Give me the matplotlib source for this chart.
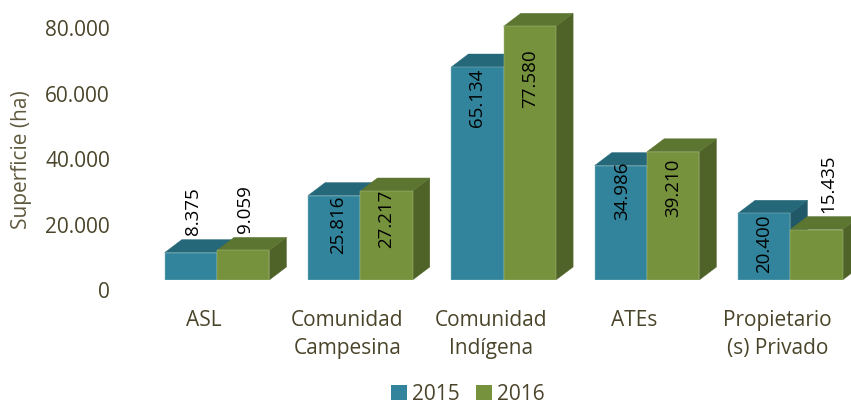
# encoding: utf-8
from matplotlib import pyplot as plt
from matplotlib.patches import Patch
from matplotlib.transforms import ScaledTranslation
import numpy as np

categories = ['ASL', 'Comunidad\nCampesina', 'Comunidad\nIndígena', 'ATEs', 'Propietario\n(s) Privado']
values_2015 = [8375, 25816, 65134, 34986, 20400]
values_2016 = [9059, 27217, 77580, 39210, 15435]
series_names = ['2015', '2016']
y_ticks = [0, 20000, 40000, 60000, 80000]
y_tick_labels = ['0', '20.000', '40.000', '60.000', '80.000']

# label nudges from the top centre of each bar, in pixels
dx_2015 = [2, 4, 0, 1, 0]
dy_2015 = [41, -29, -31, -25, -30]
dx_2016 = [2, 0, 0, 0, 12]
dy_2016 = [41, -28, -52, -36, 46]

TEXT = '#4A452A'
FONT = 'Open Sans'
plt.rcParams['font.family'] = FONT

# colours: front, top, side, edge
COLS_2015 = ('#31849B', '#256879', '#205867', '#8DBBC8')
COLS_2016 = ('#76923C', '#5C7530', '#4F6228', '#A9BD85')

BAR_W = 0.365
DEPTH_X = 0.12
DEPTH_Y = 3976


def draw_bar(ax, x, v, cols, z):
    front, top, side, edge = cols
    x0, x1 = x, x + BAR_W
    ax.fill([x1, x1 + DEPTH_X, x1 + DEPTH_X, x1], [0, DEPTH_Y, v + DEPTH_Y, v],
            color=side, ec=side, lw=0.3, zorder=z)
    ax.fill([x0, x0 + DEPTH_X, x1 + DEPTH_X, x1], [v, v + DEPTH_Y, v + DEPTH_Y, v],
            color=top, ec=top, lw=0.3, zorder=z)
    ax.bar(x0, v, BAR_W, align='edge', color=front, edgecolor=edge, linewidth=0.35, zorder=z)


def value_label(ax, x, v, dx, dy):
    txt = '{:,}'.format(v).replace(',', '.')
    ax.annotate(txt, xy=(x, v), xytext=(dx * 0.72, dy * 0.72), textcoords='offset points',
                rotation=90, ha='center', va='center', fontsize=13.5, color='black', zorder=50)


fig = plt.figure(figsize=(8.51, 4.04), dpi=100)
# bars stand on pixel row 280, one group every 143.3 px
ax = fig.add_axes([146 / 851., 1 - 280 / 404., 705 / 851., 280 / 404.])
ax.set_xlim(-0.495, 4.424)
ax.set_ylim(0, 85626)

x = np.arange(len(categories))
for i in range(len(categories)):
    draw_bar(ax, x[i] - BAR_W, values_2015[i], COLS_2015, 10 + 2 * i)
    draw_bar(ax, x[i], values_2016[i], COLS_2016, 11 + 2 * i)
    value_label(ax, x[i] - BAR_W / 2, values_2015[i], dx_2015[i], dy_2015[i])
    value_label(ax, x[i] + BAR_W / 2, values_2016[i], dx_2016[i], dy_2016[i])

# remove axis spines
for s in ['top', 'right', 'bottom', 'left']:
    ax.spines[s].set_visible(False)
ax.patch.set_visible(False)

ax.set_yticks(y_ticks)
ax.set_yticklabels(y_tick_labels, fontsize=15, color=TEXT)
ax.tick_params(axis='y', length=0, pad=26)
# the value axis sits 10 px lower than the bar floor
shift = ScaledTranslation(0, -10 / 100., fig.dpi_scale_trans)
for lab in ax.get_yticklabels():
    lab.set_transform(lab.get_transform() + shift)

ax.set_xticks(x - 13 / 143.3)
ax.set_xticklabels(categories, fontsize=15, color=TEXT, linespacing=1.45)
ax.tick_params(axis='x', length=0, pad=21.5)

fig.text(22 / 851., 1 - 160 / 404., 'Superficie (ha)', rotation=90, ha='center', va='center',
         fontsize=15, color='#5F5A3F')

handles = [Patch(facecolor=COLS_2015[0], edgecolor='none', label=series_names[0]),
           Patch(facecolor=COLS_2016[0], edgecolor='none', label=series_names[1])]
fig.legend(handles=handles, loc='center', bbox_to_anchor=(468 / 851., 1 - 394.5 / 404.), ncol=2,
           frameon=False, fontsize=15, labelcolor=TEXT, handlelength=0.75, handleheight=0.75,
           handletextpad=0.25, columnspacing=0.8, borderpad=0)

fig.savefig('out.png', dpi=100)
